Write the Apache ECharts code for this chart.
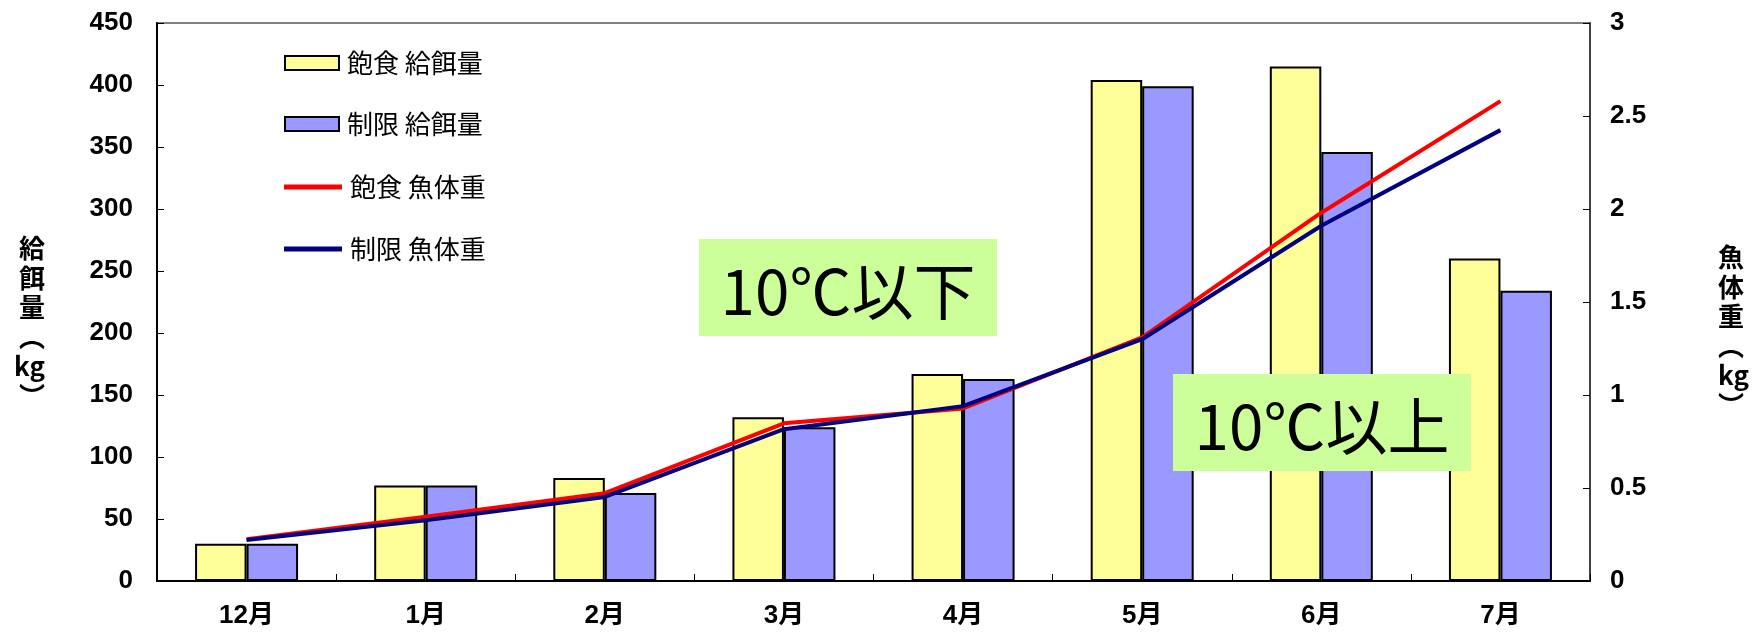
<!DOCTYPE html>
<html>
<head>
<meta charset="utf-8">
<title>給餌量と魚体重</title>
<script src="https://cdn.jsdelivr.net/npm/echarts@6/dist/echarts.min.js"></script>
<style>
  html, body { margin: 0; padding: 0; background: #fff; }
  #chart { width: 1754px; height: 634px; }
</style>
</head>
<body>
<div id="chart"></div>
<script>
// Monthly categories
const months = ['12月', '1月', '2月', '3月', '4月', '5月', '6月', '7月'];

// Feed amount (kg), left axis
const feedFull = [30, 77, 83, 132, 167, 404, 415, 260];
const feedLimited = [30, 77, 71, 124, 163, 399, 346, 234];

// Fish body weight (kg), right axis
const weightFull = [0.225, 0.345, 0.472, 0.848, 0.928, 1.31, 1.98, 2.58];
const weightLimited = [0.22, 0.327, 0.452, 0.816, 0.94, 1.30, 1.91, 2.424];

// Series names
const names = ['飽食 給餌量', '制限 給餌量', '飽食 魚体重', '制限 魚体重'];

// Temperature period notes
const noteBelow = '10℃以下';
const noteAbove = '10℃以上';

const numFont = '"Liberation Sans", "Noto Sans CJK JP", sans-serif';
const cjkFont = '"Noto Sans CJK JP", sans-serif';

// Vertical axis title: a spacer line on top pushes the stacked characters down
function stackedName(chars) {
  return '{p| }\n' + chars.map(c => '{a|' + c + '}').join('\n');
}
function nameStyle(spacer) {
  return {
    fontFamily: cjkFont, fontSize: 26, fontWeight: 'bold', color: '#000',
    rich: {
      p: { fontSize: 10, lineHeight: spacer },
      a: { fontFamily: cjkFont, fontSize: 26, fontWeight: 'bold', lineHeight: 29.5, color: '#000' }
    }
  };
}

const legendText = { fontFamily: cjkFont, fontSize: 26, color: '#000', padding: [0, 0, 0, 3] };

const chart = echarts.init(document.getElementById('chart'), null, { renderer: 'canvas' });

chart.setOption({
  backgroundColor: '#ffffff',
  animation: false,
  grid: {
    left: 157, right: 164, top: 23, bottom: 53,
    show: true, borderColor: '#808080', borderWidth: 2, backgroundColor: 'transparent'
  },
  legend: [
    {
      orient: 'vertical', left: 279, top: 45, itemGap: 35,
      itemWidth: 54, itemHeight: 14, icon: 'rect',
      data: [names[0], names[1]],
      textStyle: legendText
    },
    {
      orient: 'vertical', left: 279, top: 169, itemGap: 36,
      itemWidth: 58, itemHeight: 5, icon: 'rect',
      data: [names[2], names[3]],
      textStyle: legendText
    }
  ],
  xAxis: {
    type: 'category',
    data: months,
    axisLine: { lineStyle: { color: '#000', width: 2 } },
    axisTick: { show: true, inside: true, length: 7, lineStyle: { color: '#000', width: 1 } },
    axisLabel: { margin: 22, color: '#000', fontFamily: numFont, fontSize: 26, fontWeight: 'bold' },
    splitLine: { show: false }
  },
  yAxis: [
    {
      type: 'value',
      min: 0, max: 450, interval: 50,
      name: stackedName(['給', '餌', '量', '︵', 'kg', '︶']),
      nameLocation: 'middle',
      nameRotate: 0,
      nameGap: 112,
      nameTextStyle: nameStyle(40),
      axisLine: { show: true, lineStyle: { color: '#000', width: 2 } },
      axisTick: { show: true, inside: true, length: 7, lineStyle: { color: '#000' } },
      axisLabel: { margin: 24, color: '#000', fontFamily: numFont, fontSize: 26, fontWeight: 'bold' },
      splitLine: { show: false }
    },
    {
      type: 'value',
      min: 0, max: 3, interval: 0.5,
      name: stackedName(['魚', '体', '重', '︵', 'kg', '︶']),
      nameLocation: 'middle',
      nameRotate: 0,
      nameGap: 128,
      nameTextStyle: nameStyle(58),
      axisLine: { show: true, lineStyle: { color: '#404040', width: 2 } },
      axisTick: { show: true, inside: true, length: 7, lineStyle: { color: '#000' } },
      axisLabel: { margin: 20, color: '#000', fontFamily: numFont, fontSize: 26, fontWeight: 'bold' },
      splitLine: { show: false }
    }
  ],
  series: [
    {
      name: names[0], type: 'bar', data: feedFull,
      barGap: '0%', barCategoryGap: '42.5%',
      itemStyle: { color: '#FFFF99', borderColor: '#000', borderWidth: 2 }
    },
    {
      name: names[1], type: 'bar', data: feedLimited,
      barGap: '0%', barCategoryGap: '42.5%',
      itemStyle: { color: '#9999FF', borderColor: '#000', borderWidth: 2 }
    },
    {
      name: names[2], type: 'line', yAxisIndex: 1, data: weightFull,
      symbol: 'none', z: 5,
      lineStyle: { color: '#FF0000', width: 4 },
      itemStyle: { color: '#FF0000' }
    },
    {
      name: names[3], type: 'line', yAxisIndex: 1, data: weightLimited,
      symbol: 'none', z: 6,
      lineStyle: { color: '#000080', width: 4 },
      itemStyle: { color: '#000080' }
    }
  ],
  graphic: [
    {
      type: 'group', left: 699, top: 239, z: 100,
      children: [
        { type: 'rect', z: 100, shape: { x: 0, y: 0, width: 298, height: 97 }, style: { fill: '#CCFF99' } },
        { type: 'text', z: 101, x: 149, y: 52, style: { text: noteBelow, fill: '#000', font: '62px "Noto Sans CJK JP", "Liberation Sans", sans-serif', align: 'center', verticalAlign: 'middle' } }
      ]
    },
    {
      type: 'group', left: 1173, top: 374, z: 100,
      children: [
        { type: 'rect', z: 100, shape: { x: 0, y: 0, width: 298, height: 97 }, style: { fill: '#CCFF99' } },
        { type: 'text', z: 101, x: 149, y: 52, style: { text: noteAbove, fill: '#000', font: '62px "Noto Sans CJK JP", "Liberation Sans", sans-serif', align: 'center', verticalAlign: 'middle' } }
      ]
    }
  ]
});
</script>
</body>
</html>
